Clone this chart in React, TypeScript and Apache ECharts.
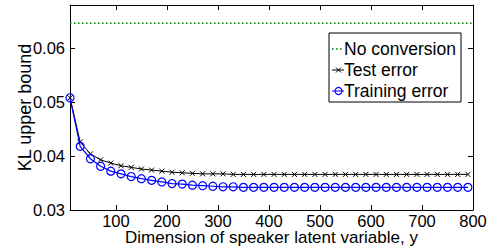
import React, { useEffect, useRef } from "react";
import * as echarts from "echarts";

const xValues = [10, 30, 50, 70, 90, 110, 130, 150, 170, 190, 210, 230, 250, 270, 290, 310, 330, 350, 370, 390, 410, 430, 450, 470, 490, 510, 530, 550, 570, 590, 610, 630, 650, 670, 690, 710, 730, 750, 770, 790];
const testError = [0.0508, 0.0426, 0.0404, 0.0393, 0.0387, 0.0382, 0.0379, 0.0376, 0.0374, 0.0372, 0.0370, 0.0369, 0.0368, 0.0367, 0.0367, 0.0367, 0.0366, 0.0366, 0.0366, 0.0366, 0.0366, 0.0366, 0.0366, 0.0366, 0.0366, 0.0366, 0.0366, 0.0366, 0.0366, 0.0366, 0.0366, 0.0366, 0.0366, 0.0366, 0.0366, 0.0366, 0.0366, 0.0366, 0.0366, 0.0366];
const trainingError = [0.0508, 0.0418, 0.0395, 0.0381, 0.0372, 0.0367, 0.0362, 0.0358, 0.0355, 0.0352, 0.0349, 0.0348, 0.0346, 0.0345, 0.0344, 0.0343, 0.0343, 0.0342, 0.0342, 0.0342, 0.0342, 0.0342, 0.0342, 0.0342, 0.0342, 0.0342, 0.0342, 0.0342, 0.0342, 0.0342, 0.0342, 0.0342, 0.0342, 0.0342, 0.0342, 0.0342, 0.0342, 0.0342, 0.0342, 0.0342];
const noConversionX = [10, 800];
const noConversionValue = 0.0646;
const xTicks = [100, 200, 300, 400, 500, 600, 700, 800];
const yTicks = [0.03, 0.04, 0.05, 0.06];
const legendNames = ["No conversion", "Test error", "Training error"];

const FONT = "'Liberation Sans', Arial, Helvetica, sans-serif";
const GREEN = "#008000";
const BLUE = "#0000ff";

export default function App() {
  const ref = useRef<HTMLDivElement>(null);
  useEffect(() => {
    document.body.style.margin = "0";
    const chart = echarts.init(ref.current!, null, { renderer: "svg" });
    const baseAxisLine = { show: true, lineStyle: { color: "#000", width: 1 } };
    const xMin = 10, xMax = 800, yMin = 0.03, yMax = 0.068;
    const crossPath = "path://M0,0L10,10M10,0L0,10";
    const lx = 329, ly = 33, rowY = [49, 70, 91];
    chart.setOption({
      animation: false,
      grid: { left: 70, right: 21, top: 5, bottom: 40, containLabel: false, outerBoundsMode: "none" },
      xAxis: [
        {
          type: "value", min: xMin, max: xMax, position: "bottom",
          name: "Dimension of speaker latent variable, y", nameLocation: "middle", nameGap: 19, nameMoveOverlap: false,
          nameTextStyle: { fontFamily: FONT, fontSize: 17, color: "#000" },
          axisLine: baseAxisLine,
          axisTick: { show: true, inside: true, length: 5, customValues: xTicks, lineStyle: { color: "#000" } },
          axisLabel: { show: true, customValues: xTicks, fontFamily: FONT, fontSize: 16.5, color: "#000", margin: 2 },
          splitLine: { show: false },
        },
        {
          type: "value", min: xMin, max: xMax, position: "top",
          axisLine: baseAxisLine,
          axisTick: { show: true, inside: true, length: 5, customValues: xTicks, lineStyle: { color: "#000" } },
          axisLabel: { show: false },
          splitLine: { show: false },
        },
      ],
      yAxis: [
        {
          type: "value", min: yMin, max: yMax, position: "left",
          name: "KL upper bound", nameLocation: "middle", nameGap: 36, nameMoveOverlap: false,
          nameTextStyle: { fontFamily: FONT, fontSize: 18, color: "#000" },
          axisLine: baseAxisLine,
          axisTick: { show: true, inside: true, length: 5, customValues: yTicks, lineStyle: { color: "#000" } },
          axisLabel: { show: true, customValues: yTicks, fontFamily: FONT, fontSize: 16.5, color: "#000", margin: 5, formatter: (v: number) => v.toFixed(2) },
          splitLine: { show: false },
        },
        {
          type: "value", min: yMin, max: yMax, position: "right",
          axisLine: baseAxisLine,
          axisTick: { show: true, inside: true, length: 5, customValues: yTicks, lineStyle: { color: "#000" } },
          axisLabel: { show: false },
          splitLine: { show: false },
        },
      ],
      series: [
        {
          name: legendNames[0], type: "line", showSymbol: false, symbol: "none",
          data: noConversionX.map((x) => [x, noConversionValue]),
          lineStyle: { color: GREEN, width: 1.5, type: [1.5, 2.5] },
        },
        {
          name: legendNames[1], type: "line", symbol: crossPath, symbolSize: 5,
          data: xValues.map((x, i) => [x, testError[i]]),
          lineStyle: { color: "#000", width: 1 },
          itemStyle: { color: "#000", borderColor: "#000", borderWidth: 1 },
        },
        {
          name: legendNames[2], type: "line", symbol: "circle", symbolSize: 8,
          data: xValues.map((x, i) => [x, trainingError[i]]),
          lineStyle: { color: BLUE, width: 1.2 },
          itemStyle: { color: "rgba(0,0,0,0)", borderColor: BLUE, borderWidth: 1.2 },
        },
      ],
      graphic: [
        {
          type: "group", z: 100,
          children: [
            { type: "rect", shape: { x: lx, y: ly, width: 132, height: 69 }, style: { fill: "#fff", stroke: "#000", lineWidth: 1 } },
            { type: "line", shape: { x1: 332, y1: rowY[0], x2: 344, y2: rowY[0] }, style: { stroke: GREEN, lineWidth: 1.5, lineDash: [1.5, 2.5] } },
            { type: "line", shape: { x1: 332, y1: rowY[1], x2: 344, y2: rowY[1] }, style: { stroke: "#000", lineWidth: 1 } },
            { type: "line", shape: { x1: 336, y1: rowY[1] - 2.5, x2: 341, y2: rowY[1] + 2.5 }, style: { stroke: "#000", lineWidth: 1 } },
            { type: "line", shape: { x1: 341, y1: rowY[1] - 2.5, x2: 336, y2: rowY[1] + 2.5 }, style: { stroke: "#000", lineWidth: 1 } },
            { type: "line", shape: { x1: 332, y1: rowY[2], x2: 344, y2: rowY[2] }, style: { stroke: BLUE, lineWidth: 1 } },
            { type: "circle", shape: { cx: 338.5, cy: rowY[2], r: 3.5 }, style: { fill: "none", stroke: BLUE, lineWidth: 1.2 } },
            ...legendNames.map((n, i) => ({
              type: "text", x: 344, y: rowY[i],
              style: { text: n, font: `17.5px ${FONT}`, fill: "#000", textVerticalAlign: "middle", verticalAlign: "middle" },
            })),
          ],
        },
      ],
    });
    return () => chart.dispose();
  }, []);
  return <div ref={ref} style={{ width: 494, height: 250 }} />;
}
